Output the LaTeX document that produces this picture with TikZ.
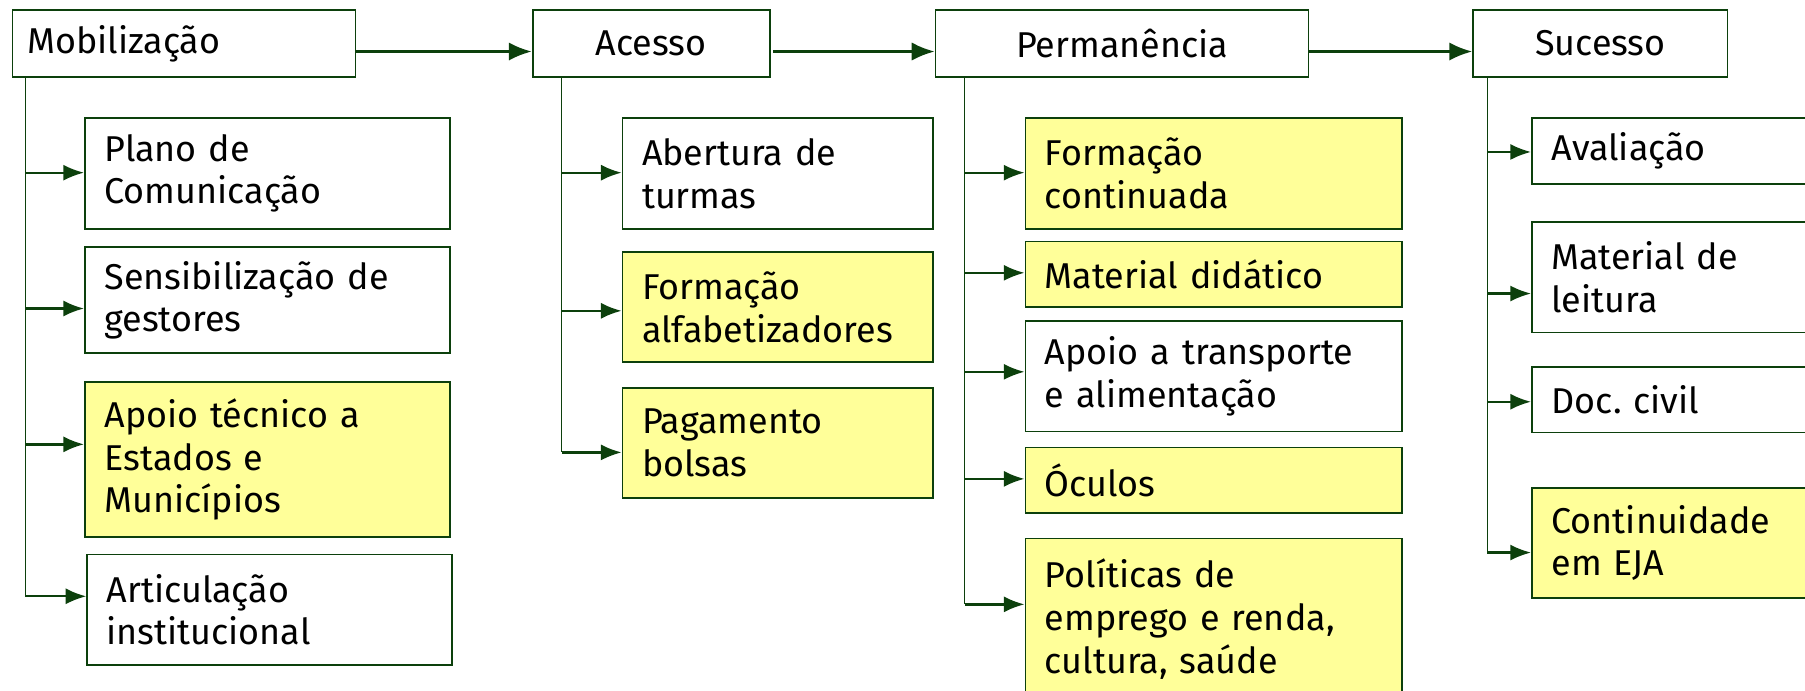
\documentclass[tikz,border=0pt]{standalone}
\usepackage{fontspec}
\setmainfont{Fira Sans}
\usetikzlibrary{arrows.meta}
\definecolor{dgreen}{RGB}{12,64,12}
\definecolor{lyellow}{RGB}{255,255,153}

\begin{document}
\begin{tikzpicture}[x=0.5pt, y=-0.5pt,
		box/.style={draw=dgreen, line width=.75pt, anchor=north west, inner xsep=8.5pt, inner ysep=0pt,
			font=\fontsize{15.6}{18.5}\selectfont},
		top/.style={box, minimum height=29pt},
		yel/.style={fill=lyellow},
		cA/.style={box, align=left, text width=141.5pt},
		cB/.style={box, align=left, text width=118pt},
		cC/.style={box, align=left, text width=146.5pt},
		two/.style={minimum height=48pt},
		one/.style={minimum height=28.5pt},
		trunk/.style={dgreen, line width=.6pt},
		sub/.style={-{Latex[length=9pt,width=7pt]}, dgreen, line width=1pt},
		main/.style={-{Latex[length=10pt,width=8pt]}, dgreen, line width=1.3pt}]
	\useasboundingbox (0,0) rectangle (1568,600);

	\node[top, align=left, inner xsep=6.5pt, text width=136pt] (mob) at (10,8) {Mobilização};
	\node[top, align=center, text width=86pt] (ace) at (462,8) {Acesso};
	\node[top, align=center, text width=145pt] (per) at (812,8) {Permanência};
	\node[top, align=center, text width=93.5pt] (suc) at (1279,8) {Sucesso};

	\draw[main] ([yshift=-3.5pt]mob.east) -- ([yshift=-3.5pt]ace.west);
	\draw[main] ([yshift=-3.5pt,xshift=1pt]ace.east) -- ([yshift=-3.5pt]per.west);
	\draw[main] ([yshift=-3.5pt]per.east) -- ([yshift=-3.5pt]suc.west);

	\node[cA, two] (plano) at (73,102) {Plano de\\Comunicação};
	\node[cA, minimum height=46pt] (sens) at (73,214) {Sensibilização de\\gestores};
	\node[cA, yel, minimum height=67.5pt] (apoio) at (73,331) {Apoio técnico a\\Estados e\\Municípios};
	\node[cA, two] (artic) at (75,481) {Articulação\\institucional};

	\node[cB, two] (abert) at (540,102) {Abertura de\\turmas};
	\node[cB, two, yel] (falf) at (540,218) {Formação\\alfabetizadores};
	\node[cB, two, yel] (pag) at (540,336) {Pagamento\\bolsas};

	\node[cC, two, yel] (fcont) at (890,102) {Formação\\continuada};
	\node[cC, one, yel] (matd) at (890,209) {Material didático};
	\node[cC, two] (transp) at (890,278) {Apoio a transporte\\e alimentação};
	\node[cC, one, yel] (ocu) at (890,388) {Óculos};
	\node[cC, yel, minimum height=70pt] (pol) at (890,467) {Políticas de\\emprego e renda,\\cultura, saúde};

	\node[cB, one] (aval) at (1330,102) {Avaliação};
	\node[cB, two] (matl) at (1330,192) {Material de\\leitura};
	\node[cB, one] (doc) at (1330,318) {Doc.\ civil};
	\node[cB, two, yel] (cont) at (1330,423) {Continuidade\\em EJA};

	\coordinate (a1) at (22,150);
	\coordinate (a2) at (22,268);
	\coordinate (a3) at (22,386);
	\coordinate (a4) at (22,518);
	\coordinate (b1) at (488,150);
	\coordinate (b2) at (488,270);
	\coordinate (b3) at (488,393);
	\coordinate (c1) at (838,150);
	\coordinate (c2) at (838,237);
	\coordinate (c3) at (838,323);
	\coordinate (c4) at (838,416);
	\coordinate (c5) at (838,525);
	\coordinate (d1) at (1292,132);
	\coordinate (d2) at (1292,255);
	\coordinate (d3) at (1292,349);
	\coordinate (d4) at (1292,480);

	\draw[trunk] (mob.south -| a1) -- (a4);
	\draw[trunk] (ace.south -| b1) -- (b3);
	\draw[trunk] (per.south -| c1) -- (c5);
	\draw[trunk] (suc.south -| d1) -- (d4);

	\draw[sub] (a1) -- (a1 -| plano.west);
	\draw[sub] (a2) -- (a2 -| sens.west);
	\draw[sub] (a3) -- (a3 -| apoio.west);
	\draw[sub] (a4) -- (a4 -| artic.west);
	\draw[sub] (b1) -- (b1 -| abert.west);
	\draw[sub] (b2) -- (b2 -| falf.west);
	\draw[sub] (b3) -- (b3 -| pag.west);
	\draw[sub] (c1) -- (c1 -| fcont.west);
	\draw[sub] (c2) -- (c2 -| matd.west);
	\draw[sub] (c3) -- (c3 -| transp.west);
	\draw[sub] (c4) -- (c4 -| ocu.west);
	\draw[sub] (c5) -- (c5 -| pol.west);
	\draw[sub] (d1) -- (d1 -| aval.west);
	\draw[sub] (d2) -- (d2 -| matl.west);
	\draw[sub] (d3) -- (d3 -| doc.west);
	\draw[sub] (d4) -- (d4 -| cont.west);
\end{tikzpicture}
\end{document}
